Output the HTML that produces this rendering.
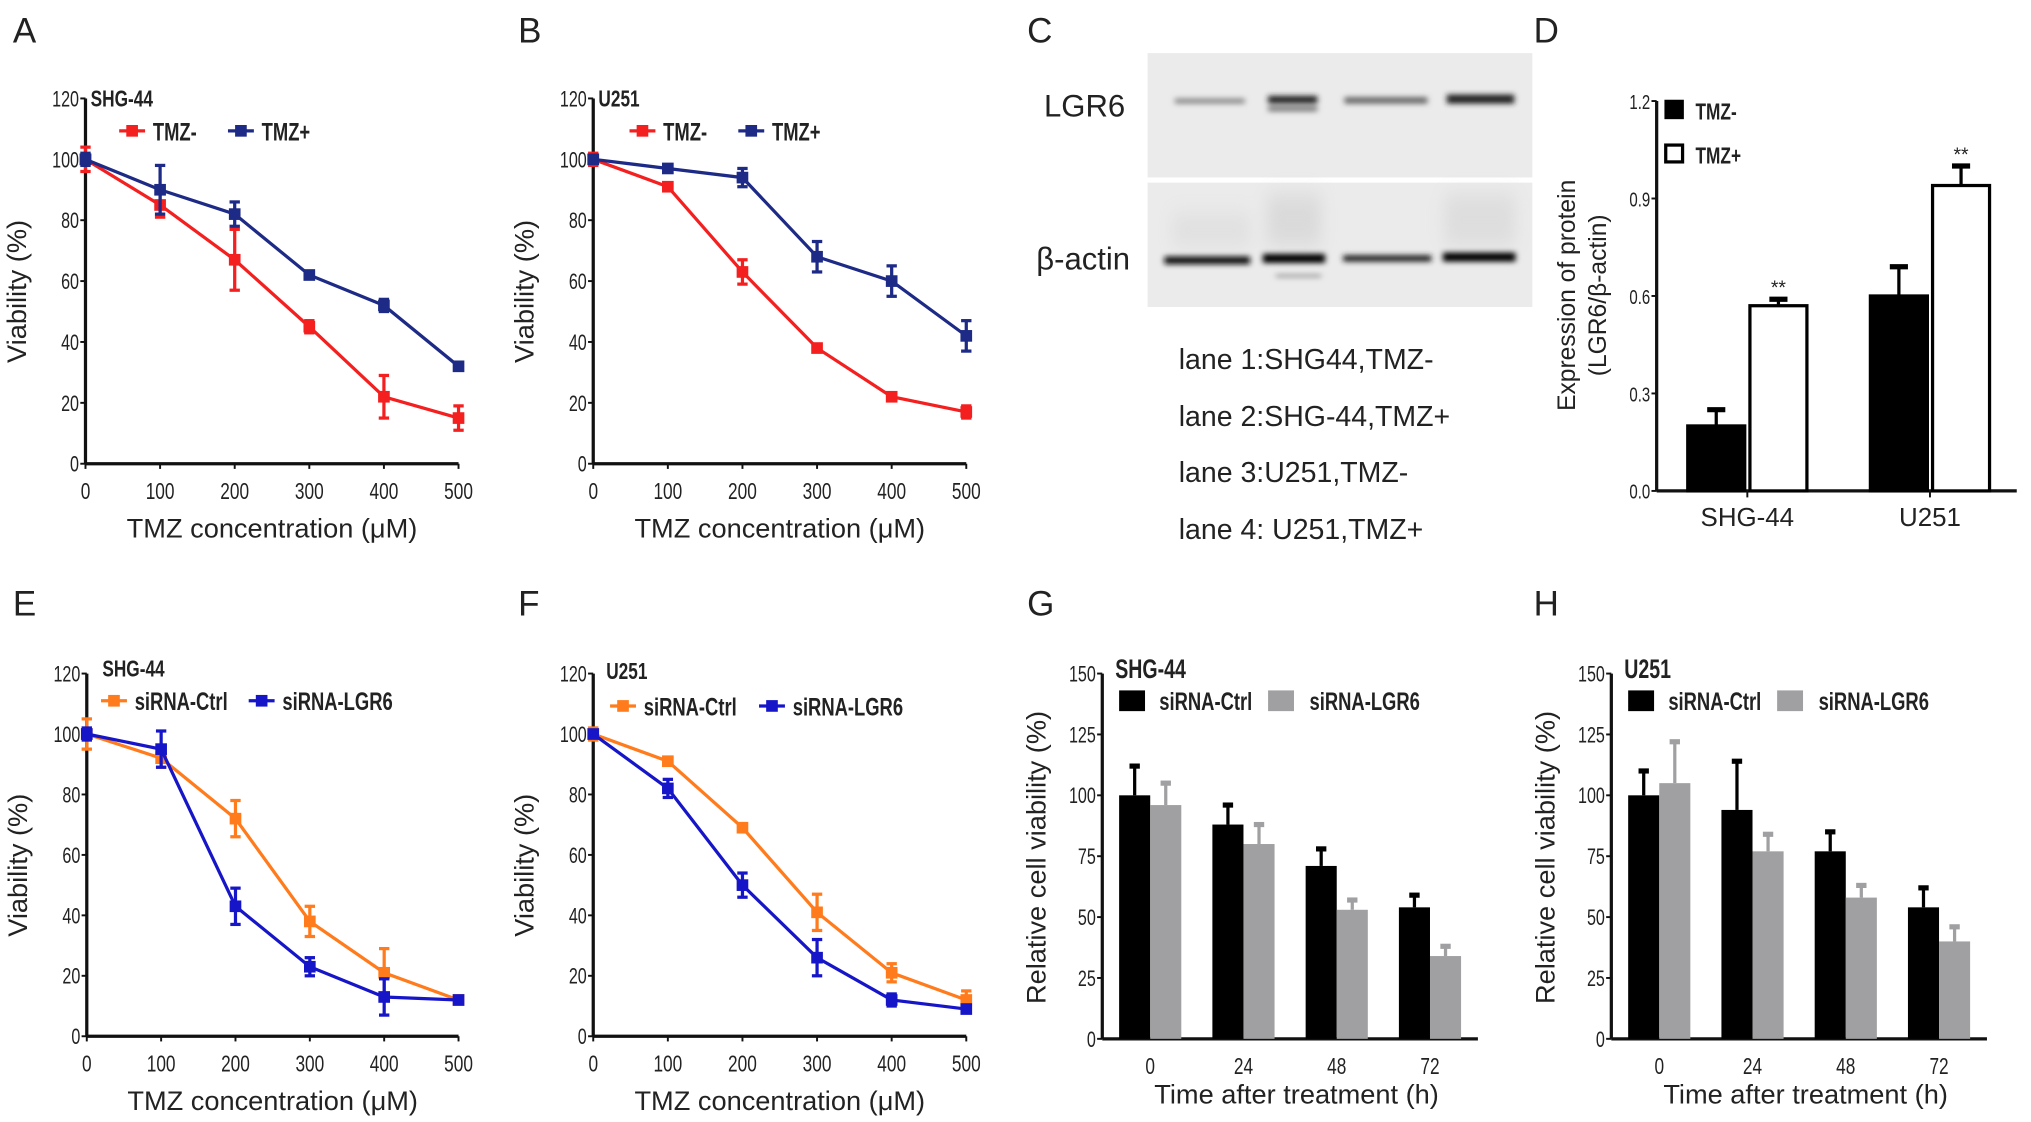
<!DOCTYPE html>
<html><head><meta charset="utf-8"><style>
html,body{margin:0;padding:0;background:#fff;}
svg{display:block;}
text{font-family:"Liberation Sans",sans-serif;fill:#222;}
.n{font-family:"Liberation Sans",sans-serif;}
</style></head><body>
<svg id="fig" width="2031" height="1122" viewBox="0 0 1568 866.2" preserveAspectRatio="none" xmlns="http://www.w3.org/2000/svg">
<defs>
<filter id="blur" x="-20%" y="-200%" width="140%" height="500%"><feGaussianBlur stdDeviation="2.2 2"/></filter>
<filter id="blur2" x="-20%" y="-200%" width="140%" height="500%"><feGaussianBlur stdDeviation="6 8"/></filter>
</defs>
<g>
<text x="10" y="33" font-size="27">A</text>
<text x="400" y="33" font-size="27">B</text>
<text x="793" y="33" font-size="27">C</text>
<text x="1184" y="33" font-size="27">D</text>
<text x="10" y="475" font-size="27">E</text>
<text x="400" y="475" font-size="27">F</text>
<text x="793" y="475" font-size="27">G</text>
<text x="1184" y="475" font-size="27">H</text>
</g>
<g>
<rect x="886" y="41" width="297" height="96" fill="#ebebeb"/>
<rect x="886" y="141" width="297" height="96" fill="#ebebeb"/>
<g filter="url(#blur2)" opacity="0.35">
<rect x="978" y="150" width="42" height="40" fill="#bbb"/><rect x="1115" y="150" width="55" height="40" fill="#c4c4c4"/><rect x="905" y="165" width="60" height="25" fill="#ccc"/>
</g>
<g filter="url(#blur)">
<rect x="907" y="76" width="54" height="4" fill="#888"/>
<rect x="979" y="74" width="38" height="6" fill="#222"/>
<rect x="979" y="82" width="38" height="4" fill="#777"/>
<rect x="1038" y="75" width="64" height="5" fill="#666"/>
<rect x="1117" y="73" width="52" height="7" fill="#222"/>
<rect x="899" y="198" width="66" height="6" fill="#111"/>
<rect x="975" y="196" width="48" height="7" fill="#000"/>
<rect x="1037" y="197" width="68" height="5" fill="#222"/>
<rect x="1114" y="195" width="56" height="7" fill="#000"/>
<rect x="985" y="212" width="35" height="2" fill="#888"/>
</g>
<text x="806" y="90" font-size="24">LGR6</text>
<text x="800" y="208" font-size="24">β-actin</text>
<text x="910" y="285" font-size="22">lane 1:SHG44,TMZ-</text>
<text x="910" y="329" font-size="22">lane 2:SHG-44,TMZ+</text>
<text x="910" y="372" font-size="22">lane 3:U251,TMZ-</text>
<text x="910" y="416" font-size="22">lane 4: U251,TMZ+</text>
</g>
<g id="charts"></g>
</svg>
<script>
// x categories for line charts
const concX = [0,100,200,300,400,500];
const concTicks = ["0","100","200","300","400","500"];
const viabTicks = [0,20,40,60,80,100,120];
// Panel A (SHG-44)
const aMinus = [100,85,67,45,22,15];
const aMinusErr = [4,4,10,2,7,4];
const aPlus = [100,90,82,62,52,32];
const aPlusErr = [2,8,4,1,2,1];
// Panel B (U251)
const bMinus = [100,91,63,38,22,17];
const bMinusErr = [2,1,4,1,1,2];
const bPlus = [100,97,94,68,60,42];
const bPlusErr = [1,1,3,5,5,5];
// Panel E (SHG-44 siRNA)
const eCtrl = [100,92,72,38,21,12];
const eCtrlErr = [5,3,6,5,8,1];
const eLgr6 = [100,95,43,23,13,12];
const eLgr6Err = [2,6,6,3,6,1];
// Panel F (U251 siRNA)
const fCtrl = [100,91,69,41,21,12];
const fCtrlErr = [2,1,1,6,3,3];
const fLgr6 = [100,82,50,26,12,9];
const fLgr6Err = [1,3,4,6,2,1];
// Panel D
const dCats = ["SHG-44","U251"];
const dMinus = [0.2,0.6];
const dMinusErr = [0.05,0.09];
const dPlus = [0.57,0.94];
const dPlusErr = [0.02,0.06];
const dTicks = ["0.0","0.3","0.6","0.9","1.2"];
// Panels G/H
const timeCats = ["0","24","48","72"];
const cvTicks = [0,25,50,75,100,125,150];
const gCtrl = [100,88,71,54];
const gCtrlErr = [12,8,7,5];
const gLgr6 = [96,80,53,34];
const gLgr6Err = [9,8,4,4];
const hCtrl = [100,94,77,54];
const hCtrlErr = [10,20,8,8];
const hLgr6 = [105,77,58,40];
const hLgr6Err = [17,7,5,6];

const NS="http://www.w3.org/2000/svg";
const root=document.getElementById('charts');
function el(tag,attrs,parent,txt){const e=document.createElementNS(NS,tag);for(const k in attrs)e.setAttribute(k,attrs[k]);if(txt!==undefined)e.textContent=txt;(parent||root).appendChild(e);return e;}

function lineChart(o){
  const g=el('g',{});
  
  
  const X=v=>o.x0+(v-0)/500*(o.x1-o.x0);
  const Y=v=>o.y0-(v/120)*(o.y0-o.y1);
  el('line',{x1:o.x0,y1:o.y0,x2:o.x0,y2:o.y1,stroke:'#111','stroke-width':2.5},g);
  el('line',{x1:o.x0,y1:o.y0,x2:o.x1,y2:o.y0,stroke:'#111','stroke-width':2.5},g);
  viabTicks.forEach(t=>{el('line',{x1:o.x0-4,x2:o.x0,y1:Y(t),y2:Y(t),stroke:'#111','stroke-width':1.5},g);
    const tx=el('text',{x:o.x0-5,y:Y(t)+5,'font-size':14,'text-anchor':'end',class:'n'},g,String(t));
    
    });
  concX.forEach((c,i)=>{el('line',{x1:X(c),x2:X(c),y1:o.y0,y2:o.y0+4,stroke:'#111','stroke-width':1.5},g);
    const tx=el('text',{x:X(c),y:o.y0+26,'font-size':15,'text-anchor':'middle',class:'n'},g,concTicks[i]);
    
    });
  const xt=el('text',{x:(o.x0+o.x1)/2,y:o.y0+57,'font-size':21,'text-anchor':'middle'},g,'TMZ concentration (μM)');
  
  
  const yc=(o.y0+o.y1)/2+8;
  const yt=el('text',{x:o.x0-46,y:yc,'font-size':21,'text-anchor':'middle',transform:`rotate(-90 ${o.x0-46} ${yc})`},g,'Viability (%)');
  
  
  const ct=el('text',{x:o.x0+o.cellDx,y:o.cellY,'font-size':15,class:'n','font-weight':'bold'},g,o.cell);
  
  
  o.series.forEach((s,si)=>{
    const sg=el('g',{},g);
    
    
    const pts=s.v.map((v,i)=>X(concX[i])+','+Y(v)).join(' ');
    el('polyline',{points:pts,fill:'none',stroke:s.c,'stroke-width':2.5},sg);
    s.v.forEach((v,i)=>{const x=X(concX[i]);
      el('line',{x1:x,x2:x,y1:Y(v+s.e[i]),y2:Y(v-s.e[i]),stroke:s.c,'stroke-width':2.5},sg);
      el('line',{x1:x-4,x2:x+4,y1:Y(v+s.e[i]),y2:Y(v+s.e[i]),stroke:s.c,'stroke-width':2.5},sg);
      el('line',{x1:x-4,x2:x+4,y1:Y(v-s.e[i]),y2:Y(v-s.e[i]),stroke:s.c,'stroke-width':2.5},sg);
      const m=el('rect',{x:x-4.5,y:Y(v)-4.5,width:9,height:9,fill:s.c},sg);
      
      });
    const lx=o.x0+o.legX[si], ly=o.legY;
    const lg=el('g',{},g);
    
    
    el('line',{x1:lx-10,x2:lx+10,y1:ly,y2:ly,stroke:s.c,'stroke-width':2.5},lg);
    el('rect',{x:lx-4.5,y:ly-4.5,width:9,height:9,fill:s.c},lg);
    el('text',{x:lx+16,y:ly+6,'font-size':16,class:'n','font-weight':'bold'},lg,s.label);
  });
}

lineChart({name:'chart-a',x0:66,x1:354,y0:358,y1:76,cell:'SHG-44',cellDx:4,cellY:81,legY:101,legX:[36,120],
  series:[{label:'TMZ-',v:aMinus,e:aMinusErr,c:'#f41f1f'},{label:'TMZ+',v:aPlus,e:aPlusErr,c:'#1d2a86'}]});
lineChart({name:'chart-b',x0:458,x1:746,y0:358,y1:76,cell:'U251',cellDx:4,cellY:81,legY:101,legX:[38,122],
  series:[{label:'TMZ-',v:bMinus,e:bMinusErr,c:'#f41f1f'},{label:'TMZ+',v:bPlus,e:bPlusErr,c:'#1d2a86'}]});
lineChart({name:'chart-e',x0:67,x1:354,y0:800,y1:520,cell:'SHG-44',cellDx:12,cellY:521,legY:541,legX:[21,135],
  series:[{label:'siRNA-Ctrl',v:eCtrl,e:eCtrlErr,c:'#ff7b1c'},{label:'siRNA-LGR6',v:eLgr6,e:eLgr6Err,c:'#1616c8'}]});
lineChart({name:'chart-f',x0:458,x1:746,y0:800,y1:520,cell:'U251',cellDx:10,cellY:523,legY:545,legX:[23,138],
  series:[{label:'siRNA-Ctrl',v:fCtrl,e:fCtrlErr,c:'#ff7b1c'},{label:'siRNA-LGR6',v:fLgr6,e:fLgr6Err,c:'#1616c8'}]});

// Panel D
(function(){
  const g=el('g',{});
  
  
  const x0=1279,x1=1557,y0=379,y1=78;
  const Y=v=>y0-v/1.2*(y0-y1);
  el('line',{x1:x0,y1:y0,x2:x0,y2:y1,stroke:'#111','stroke-width':2.5},g);
  el('line',{x1:x0,y1:y0,x2:x1,y2:y0,stroke:'#111','stroke-width':2.5},g);
  dTicks.forEach(t=>{const v=parseFloat(t);el('line',{x1:x0-4,x2:x0,y1:Y(v),y2:Y(v),stroke:'#111','stroke-width':1.5},g);
    const tx=el('text',{x:x0-5,y:Y(v)+5,'font-size':13,'text-anchor':'end',class:'n'},g,t);
    
    });
  const centers=[1349,1490], bw=44;
  dCats.forEach((c,i)=>{
    const cx=centers[i];
    el('line',{x1:cx,x2:cx,y1:y0,y2:y0+5,stroke:'#111','stroke-width':1.5},g);
    const tx=el('text',{x:cx,y:y0+27,'font-size':20,'text-anchor':'middle'},g,c);
    
    
    [[dMinus,dMinusErr,'#000',cx-bw-2],[dPlus,dPlusErr,'#fff',cx+2]].forEach((s,k)=>{
      const v=s[0][i],e=s[1][i];
      const bx=s[3]+bw/2;
      el('line',{x1:bx,x2:bx,y1:Y(v),y2:Y(v+e),stroke:'#000','stroke-width':2.5},g);
      el('line',{x1:bx-7,x2:bx+7,y1:Y(v+e),y2:Y(v+e),stroke:'#000','stroke-width':4},g);
      const r=el('rect',{x:s[3],y:Y(v),width:bw,height:y0-Y(v),fill:s[2],stroke:'#000','stroke-width':2.5},g);
      
      
      if(k===1){el('text',{x:bx,y:Y(v+e)-4,'font-size':15,'text-anchor':'middle'},g,'**');}
    });
  });
  const yt=el('text',{'font-size':19,'text-anchor':'middle',transform:'translate(1216 228) rotate(-90)'},g,'Expression of protein');
  
  
  el('text',{'font-size':19,'text-anchor':'middle',transform:'translate(1240 228) rotate(-90)'},g,'(LGR6/β-actin)');
  const l1=el('g',{},g);
  
  
  el('rect',{x:1285,y:77,width:15,height:15,fill:'#000'},l1);
  el('text',{x:1309,y:91,'font-size':15,class:'n','font-weight':'bold'},l1,'TMZ-');
  const l2=el('g',{},g);
  
  
  el('rect',{x:1286,y:112,width:13,height:13,fill:'#fff',stroke:'#000','stroke-width':2.5},l2);
  el('text',{x:1309,y:125,'font-size':15,class:'n','font-weight':'bold'},l2,'TMZ+');
})();

function barChart(o){
  const g=el('g',{});
  
  
  const x0=o.x0,x1=o.x0+290,y0=802,y1=520;
  const Y=v=>y0-v/150*(y0-y1);
  el('line',{x1:x0,y1:y0,x2:x0,y2:y1,stroke:'#111','stroke-width':2.5},g);
  el('line',{x1:x0,y1:y0,x2:x1,y2:y0,stroke:'#111','stroke-width':2.5},g);
  cvTicks.forEach(t=>{el('line',{x1:x0-4,x2:x0,y1:Y(t),y2:Y(t),stroke:'#111','stroke-width':1.5},g);
    const tx=el('text',{x:x0-5,y:Y(t)+5,'font-size':14,'text-anchor':'end',class:'n'},g,String(t));
    
    });
  const bw=24;
  timeCats.forEach((c,i)=>{
    const cx=x0+37+i*72;
    const tx=el('text',{x:cx,y:y0+26,'font-size':15,'text-anchor':'middle',class:'n'},g,c);
    
    
    [[o.ctrl,o.ctrlErr,'#000',cx-bw],[o.lgr,o.lgrErr,'#a0a0a2',cx]].forEach((s,k)=>{
      const v=s[0][i],e=s[1][i],bx=s[3]+bw/2;
      el('line',{x1:bx,x2:bx,y1:Y(v),y2:Y(v+e),stroke:s[2],'stroke-width':2.5},g);
      el('line',{x1:bx-4,x2:bx+4,y1:Y(v+e),y2:Y(v+e),stroke:s[2],'stroke-width':4},g);
      const r=el('rect',{x:s[3],y:Y(v),width:bw,height:y0-Y(v),fill:s[2]},g);
      
      
    });
  });
  const xt=el('text',{x:x0+150,y:y0+50,'font-size':21,'text-anchor':'middle'},g,'Time after treatment (h)');
  
  
  const yt=el('text',{'font-size':21,'text-anchor':'middle',transform:`translate(${x0-44} 662) rotate(-90)`},g,'Relative cell viability (%)');
  
  
  const ct=el('text',{x:x0+10,y:522,'font-size':17,class:'n','font-weight':'bold'},g,o.cell);
  
  
  const l1=el('g',{},g);
  
  
  el('rect',{x:x0+13,y:533,width:20,height:16,fill:'#000'},l1);
  el('text',{x:x0+44,y:547,'font-size':16,class:'n','font-weight':'bold'},l1,'siRNA-Ctrl');
  const l2=el('g',{},g);
  
  
  el('rect',{x:x0+128,y:533,width:20,height:16,fill:'#a0a0a2'},l2);
  el('text',{x:x0+160,y:547,'font-size':16,class:'n','font-weight':'bold'},l2,'siRNA-LGR6');
}
barChart({name:'chart-g',x0:851,cell:'SHG-44',ctrl:gCtrl,ctrlErr:gCtrlErr,lgr:gLgr6,lgrErr:gLgr6Err});
barChart({name:'chart-h',x0:1244,cell:'U251',ctrl:hCtrl,ctrlErr:hCtrlErr,lgr:hLgr6,lgrErr:hLgr6Err});

// condense narrow-style labels (narrow font unavailable): taller but narrower
document.querySelectorAll('text.n').forEach(t=>{
  const x=t.getAttribute('x'), y=parseFloat(t.getAttribute('y'));
  const fs=parseFloat(t.getAttribute('font-size'));
  t.setAttribute('font-size', (fs*1.2).toFixed(1));
  t.setAttribute('x',0); t.setAttribute('y',0);
  t.setAttribute('transform',`translate(${x} ${y+fs*0.08}) scale(0.74 1)`);
});
</script>
</body></html>
